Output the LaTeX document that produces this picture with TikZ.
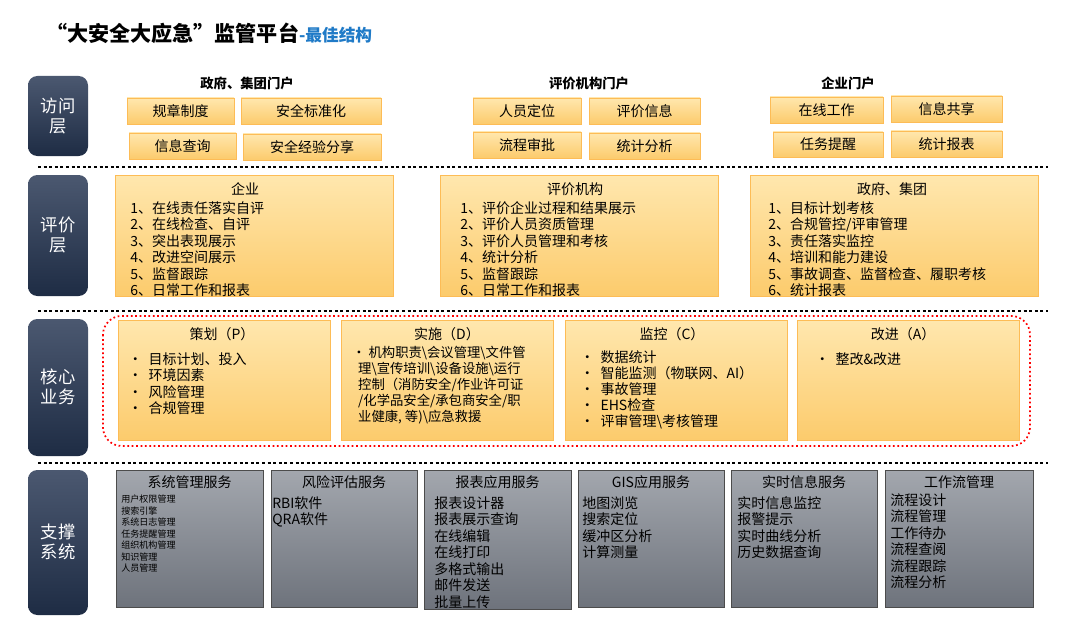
\documentclass[tikz,border=0pt]{standalone}
\usepackage{fontspec}
\setmainfont{Noto Sans CJK SC}
\definecolor{navyT}{HTML}{4B5870}
\definecolor{navyB}{HTML}{1E2C44}
\definecolor{yelT}{HTML}{FFE7AE}
\definecolor{yelB}{HTML}{FCCB6C}
\definecolor{grT}{HTML}{A3A7AE}
\definecolor{grB}{HTML}{6E737C}
\definecolor{ttl}{HTML}{1F7AC7}
\tikzset{
  side/.style={rounded corners=7pt,top color=navyT,bottom color=navyB,draw=none},
  sidet/.style={text=white,font=\fontsize{13}{15}\selectfont,align=center},
  ybox/.style={top color=yelT,bottom color=yelB,draw=yelB!80!orange,line width=0.4pt},
  gbox/.style={top color=grT,bottom color=grB,draw=gray!60!black,line width=0.4pt},
  sep/.style={dotted,line width=2.2pt,black},
  btxt/.style={font=\fontsize{10.5}{12}\selectfont},
  hd/.style={font=\bfseries\fontsize{10}{12}\selectfont},
  lst/.style={font=\fontsize{10.5}{12.4}\selectfont,align=left,anchor=north west,inner sep=0pt},
}
\begin{document}
\begin{tikzpicture}[x=0.75pt,y=-0.75pt]
\useasboundingbox[fill=white] (0,0) rectangle (1080,638);
\node[anchor=west,inner sep=0] (title) at (46,33) {\fontsize{15.8}{18}\selectfont\bfseries “大安全大应急”监管平台\textcolor{ttl}{\fontsize{12.5}{14}\selectfont -最佳结构}};
% side labels
\path[side] (28,76) rectangle (88,156);   \node[sidet] (s1) at (58,116) {访问\\层};
\path[side] (28,175) rectangle (88,296);  \node[sidet] (s2) at (58,235) {评价\\层};
\path[side] (28,319) rectangle (88,456);  \node[sidet] (s3) at (58,387) {核心\\业务};
\path[side] (28,470) rectangle (88,615);  \node[sidet] (s4) at (58,542) {支撑\\系统};
% separators
\draw[sep] (38,167) -- (1048,167);
\draw[sep] (38,311) -- (1048,311);
\draw[sep] (38,463) -- (1048,463);
% access layer
\node[hd] (h1) at (247,83) {政府、集团门户};
\node[hd] (h2) at (589,83) {评价机构门户};
\node[hd] (h3) at (848,83) {企业门户};
\newcommand\abox[6]{\path[ybox] (#1,#2) rectangle (#3,#4); \node[btxt] (#6) at ({(#1+#3)/2},{(#2+#4)/2}) {#5};}
\abox{127}{98}{234}{124}{规章制度}{a1}
\abox{241}{98}{381}{124}{安全标准化}{a2}
\abox{129}{133}{236}{159}{信息查询}{a3}
\abox{243}{134}{381}{160}{安全经验分享}{a4}
\abox{473}{98}{581}{124}{人员定位}{a5}
\abox{589}{98}{700}{124}{评价信息}{a6}
\abox{473}{132}{581}{158}{流程审批}{a7}
\abox{589}{133}{700}{159}{统计分析}{a8}
\abox{770}{97}{883}{123}{在线工作}{a9}
\abox{891}{96}{1002}{122}{信息共享}{a10}
\abox{773}{132}{883}{157}{任务提醒}{a11}
\abox{891}{131}{1002}{157}{统计报表}{a12}
% evaluation layer
\path[ybox] (115,175) rectangle (393,296);
\node[btxt] (e1t) at (245,189) {企业};
\node[lst] (e1) at (130,201) {1、在线责任落实自评\\2、在线检查、自评\\3、突出表现展示\\4、改进空间展示\\5、监督跟踪\\6、日常工作和报表};
\path[ybox] (440,175) rectangle (718,296);
\node[btxt] (e2t) at (575,189) {评价机构};
\node[lst] (e2) at (460,201) {1、评价企业过程和结果展示\\2、评价人员资质管理\\3、评价人员管理和考核\\4、统计分析\\5、监督跟踪\\6、日常工作和报表};
\path[ybox] (750,175) rectangle (1038,296);
\node[btxt] (e3t) at (892,189) {政府、集团};
\node[lst] (e3) at (768,201) {1、目标计划考核\\2、合规管控/评审管理\\3、责任落实监控\\4、培训和能力建设\\5、事故调查、监督检查、履职考核\\6、统计报表};
% core
\draw[red,dotted,line width=1.3pt,rounded corners=14pt] (103,316) rectangle (1030,446);
\path[ybox] (118,320) rectangle (330,440);
\node[btxt] (c1t) at (222,334) {策划（P）};
\node[lst] (c1) at (128,352) {•\ \ 目标计划、投入\\•\ \ 环境因素\\•\ \ 风险管理\\•\ \ 合规管理};
\path[ybox] (341,320) rectangle (553,440);
\node[btxt] (c2t) at (447,334) {实施（D）};
\node[lst,font=\fontsize{10}{12}\selectfont] (c2) at (352,346) {•\ 机构职责\textbackslash 会议管理\textbackslash 文件管\\\ \ 理\textbackslash 宣传培训\textbackslash 设备设施\textbackslash 运行\\\ \ 控制（消防安全/作业许可证\\\ \ /化学品安全/承包商安全/职\\\ \ 业健康, 等)\textbackslash 应急救援};
\path[ybox] (565,320) rectangle (787,440);
\node[btxt] (c3t) at (672,334) {监控（C）};
\node[lst,font=\fontsize{10.5}{12}\selectfont] (c3) at (580,350) {•\ \ 数据统计\\•\ \ 智能监测（物联网、AI）\\•\ \ 事故管理\\•\ \ EHS检查\\•\ \ 评审管理\textbackslash 考核管理};
\path[ybox] (797,320) rectangle (1019,440);
\node[btxt] (c4t) at (903,334) {改进（A）};
\node[lst] (c4) at (815,352) {•\ \ 整改\&改进};
% support
\newcommand\gb[5]{\path[gbox] (#1,470) rectangle (#2,#3); \node[btxt] (#5) at ({(#1+#2)/2},482) {#4};}
\gb{116}{263}{607}{系统管理服务}{g1}
\node[lst,font=\fontsize{6.8}{8.6}\selectfont] (g1l) at (121,495) {用户权限管理\\搜索引擎\\系统日志管理\\任务提醒管理\\组织机构管理\\知识管理\\人员管理};
\gb{271}{417}{607}{风险评估服务}{g2}
\node[lst] (g2l) at (272,496) {RBI软件\\QRA软件};
\gb{424}{571}{609}{报表应用服务}{g3}
\node[lst] (g3l) at (434,496) {报表设计器\\报表展示查询\\在线编辑\\在线打印\\多格式输出\\邮件发送\\批量上传};
\gb{578}{724}{607}{GIS应用服务}{g4}
\node[lst] (g4l) at (582,496) {地图浏览\\搜索定位\\缓冲区分析\\计算测量};
\gb{731}{877}{607}{实时信息服务}{g5}
\node[lst] (g5l) at (737,496) {实时信息监控\\报警提示\\实时曲线分析\\历史数据查询};
\gb{885}{1033}{607}{工作流管理}{g6}
\node[lst] (g6l) at (890,493) {流程设计\\流程管理\\工作待办\\流程查阅\\流程跟踪\\流程分析};
\end{tikzpicture}
\end{document}
